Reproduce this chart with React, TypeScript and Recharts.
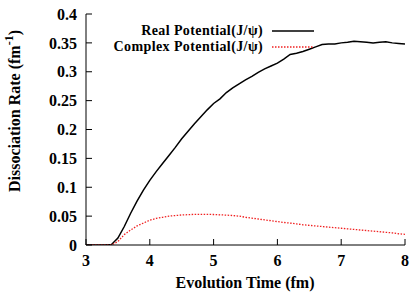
import React from 'react';
import { LineChart, Line, XAxis, YAxis, Legend } from 'recharts';

const TIME = [
  3.0, 3.1, 3.2, 3.3, 3.4, 3.5, 3.6, 3.7, 3.8, 3.9,
  4.0, 4.1, 4.2, 4.3, 4.4, 4.5, 4.6, 4.7, 4.8, 4.9,
  5.0, 5.1, 5.2, 5.3, 5.4, 5.5, 5.6, 5.7, 5.8, 5.9,
  6.0, 6.1, 6.2, 6.3, 6.4, 6.5, 6.6, 6.7, 6.8, 6.9,
  7.0, 7.1, 7.2, 7.3, 7.4, 7.5, 7.6, 7.7, 7.8, 7.9, 8.0,
];
const REAL = [
  0, 0, 0, 0, 0.001, 0.012, 0.032, 0.055, 0.076, 0.095,
  0.112, 0.127, 0.141, 0.155, 0.169, 0.184, 0.197, 0.21, 0.222, 0.234,
  0.245, 0.253, 0.264, 0.272, 0.279, 0.286, 0.292, 0.299, 0.305, 0.31,
  0.315, 0.322, 0.33, 0.332, 0.335, 0.339, 0.343, 0.347, 0.348, 0.348,
  0.35, 0.351, 0.353, 0.352, 0.351, 0.35, 0.351, 0.352, 0.35, 0.349, 0.348,
];
const COMPLEX = [
  0, 0, 0, 0, 0, 0.006, 0.018, 0.026, 0.033, 0.038,
  0.043, 0.046, 0.048, 0.05, 0.051, 0.052, 0.0525, 0.053, 0.053, 0.053,
  0.0528, 0.0523, 0.0517, 0.051, 0.05, 0.048, 0.0465, 0.045, 0.0435, 0.042,
  0.0405, 0.039, 0.038, 0.0365, 0.035, 0.034, 0.033, 0.032, 0.031, 0.03,
  0.029, 0.028, 0.027, 0.026, 0.025, 0.024, 0.023, 0.022, 0.021, 0.0195, 0.0185,
];
const SERIES_NAMES = ['Real Potential(J/ψ)', 'Complex Potential(J/ψ)'];
const X_TICKS = [3, 4, 5, 6, 7, 8];
const Y_TICKS = [0, 0.05, 0.1, 0.15, 0.2, 0.25, 0.3, 0.35, 0.4];

const data = TIME.map((t, i) => ({ t, real: REAL[i], complex: COMPLEX[i] }));

const FONT = '"Liberation Serif", "Times New Roman", serif';
const tickStyle = { fontFamily: FONT, fontWeight: 'bold', fontSize: 16, fill: '#000' };

// legend sits in the upper left of the plot, text right aligned before the sample line
const renderLegend = (props: any) => {
  const items = [...(props.payload || [])].sort(
    (a: any, b: any) => SERIES_NAMES.indexOf(a.value) - SERIES_NAMES.indexOf(b.value));
  return (
    <div style={{ position: 'relative', width: 415, height: 294, fontFamily: FONT, fontWeight: 'bold', fontSize: 14, letterSpacing: 0.4 }}>
      {items.map((item: any, i: number) => (
        <React.Fragment key={item.value}>
          <div style={{ position: 'absolute', top: 23 + i * 16, left: 0, width: 263, textAlign: 'right', lineHeight: '16px', height: 16, whiteSpace: 'nowrap' }}>
            {item.value}
          </div>
          <svg style={{ position: 'absolute', left: 270, top: 25 + i * 16 }} width={46} height={12}>
            <line x1={2} x2={44} y1={6} y2={6} stroke={item.color}
              strokeWidth={i === 0 ? 1.5 : 1.3} strokeDasharray={i === 0 ? undefined : '1.5 1.5'} />
          </svg>
        </React.Fragment>
      ))}
    </div>
  );
};

const yLabel = () => (
  <text x={20} y={111} transform="rotate(-90 20 111)" textAnchor="middle"
    style={{ fontFamily: FONT, fontWeight: 'bold', fontSize: 16 }} fill="#000">
    Dissociation Rate (fm<tspan dy={-7} fontSize={12}>-1</tspan><tspan dy={7}>)</tspan>
  </text>
);

const xLabel = () => (
  <text x={245} y={288} textAnchor="middle"
    style={{ fontFamily: FONT, fontWeight: 'bold', fontSize: 16 }} fill="#000">
    Evolution Time (fm)
  </text>
);

export default function App() {
  return (
    <div style={{ position: 'absolute', left: 0, top: 0, background: '#fff' }}>
      <LineChart width={415} height={294} data={data} margin={{ top: 14, right: 10, left: 0, bottom: 0 }}>
        <XAxis xAxisId="b" dataKey="t" type="number" domain={[3, 8]} ticks={X_TICKS}
          height={49} stroke="#000" tickSize={-6} tickMargin={16} tick={tickStyle}
          allowDataOverflow label={xLabel} />
        <XAxis xAxisId="t" orientation="top" dataKey="t" type="number" domain={[3, 8]} ticks={X_TICKS}
          height={0} stroke="#000" tickSize={-6} tick={false} />
        <YAxis yAxisId="l" type="number" domain={[0, 0.4]} ticks={Y_TICKS} width={86}
          stroke="#000" tickSize={-6} tickMargin={15} tick={tickStyle}
          allowDataOverflow label={yLabel} />
        <YAxis yAxisId="r" orientation="right" type="number" domain={[0, 0.4]} ticks={Y_TICKS} width={0}
          stroke="#000" tickSize={-6} tick={false} />
        <Legend layout="vertical" verticalAlign="middle" align="center" content={renderLegend}
          wrapperStyle={{ position: 'absolute', left: 0, top: 0, width: 415, height: 294, pointerEvents: 'none' }} />
        <Line xAxisId="b" yAxisId="l" dataKey="real" name={SERIES_NAMES[0]} stroke="#000"
          strokeWidth={1.5} dot={false} isAnimationActive={false} />
        <Line xAxisId="b" yAxisId="l" dataKey="complex" name={SERIES_NAMES[1]} stroke="#f02020"
          strokeWidth={1.3} strokeDasharray="1.5 1.5" dot={false} isAnimationActive={false} />
      </LineChart>
    </div>
  );
}
